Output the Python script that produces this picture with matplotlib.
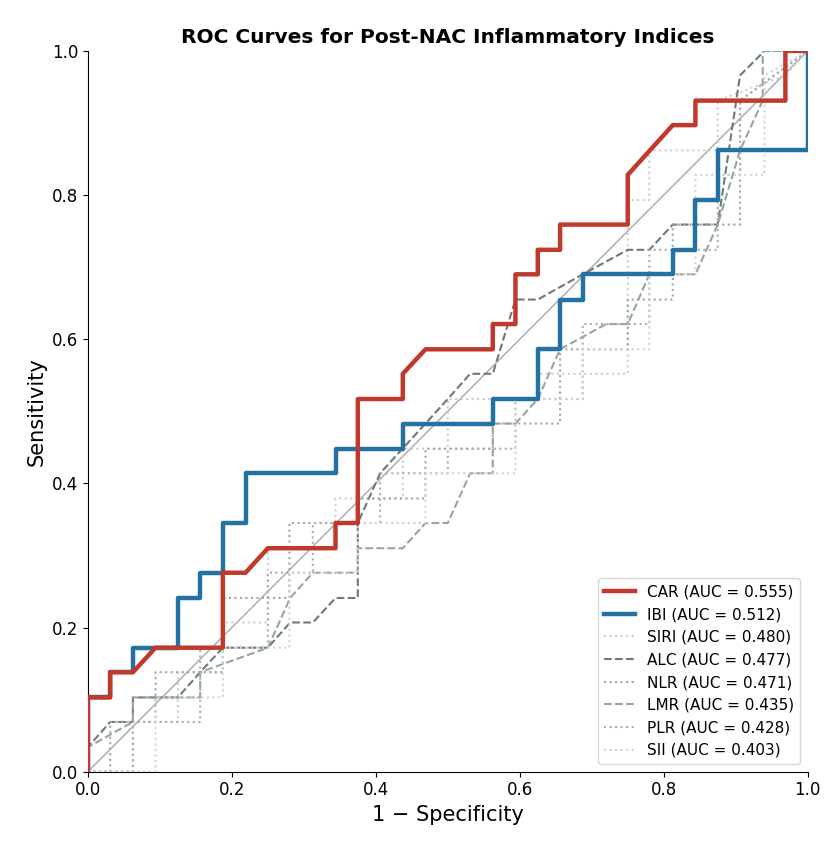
import matplotlib
matplotlib.use("Agg")
import matplotlib.pyplot as plt

car_fpr = [0,0,0.031,0.031,0.0625,0.094,0.1875,0.1875,0.219,0.25,0.344,0.344,0.375,0.375,0.4375,0.4375,0.469,0.5625,0.5625,0.594,0.594,0.625,0.625,0.656,0.656,0.75,0.75,0.8125,0.844,0.844,0.969,0.969,1]
car_tpr = [0,0.103,0.103,0.138,0.138,0.172,0.172,0.276,0.276,0.31,0.31,0.345,0.345,0.517,0.517,0.552,0.586,0.586,0.621,0.621,0.69,0.69,0.724,0.724,0.759,0.759,0.828,0.897,0.897,0.931,0.931,1,1]
ibi_fpr = [0,0,0.031,0.031,0.0625,0.0625,0.125,0.125,0.156,0.156,0.1875,0.1875,0.219,0.219,0.344,0.344,0.4375,0.4375,0.5625,0.5625,0.625,0.625,0.656,0.656,0.6875,0.6875,0.8125,0.8125,0.844,0.844,0.875,0.875,1,1]
ibi_tpr = [0,0.103,0.103,0.138,0.138,0.172,0.172,0.241,0.241,0.276,0.276,0.345,0.345,0.414,0.414,0.448,0.448,0.483,0.483,0.517,0.517,0.586,0.586,0.655,0.655,0.69,0.69,0.724,0.724,0.793,0.793,0.862,0.862,1]
alc_fpr = [0,0,0.031,0.0625,0.0625,0.125,0.156,0.1875,0.25,0.281,0.3125,0.344,0.375,0.375,0.406,0.469,0.5,0.531,0.5625,0.594,0.625,0.6875,0.75,0.78,0.8125,0.875,0.906,0.94,1]
alc_tpr = [0,0.034,0.069,0.069,0.103,0.103,0.138,0.172,0.172,0.207,0.207,0.241,0.241,0.345,0.414,0.483,0.517,0.552,0.552,0.655,0.655,0.69,0.724,0.724,0.759,0.759,0.966,1,1]
lmr_fpr = [0,0,0.0625,0.0625,0.156,0.156,0.25,0.281,0.3125,0.375,0.375,0.4375,0.469,0.5,0.531,0.5625,0.5625,0.594,0.625,0.656,0.72,0.75,0.78,0.844,0.875,0.906,0.9375,0.9375,1]
lmr_tpr = [0,0.034,0.069,0.103,0.103,0.138,0.172,0.241,0.276,0.276,0.31,0.31,0.345,0.345,0.414,0.414,0.483,0.483,0.517,0.586,0.621,0.621,0.69,0.69,0.759,0.862,0.931,1,1]
siri_fpr = [0,0.0625,0.0625,0.125,0.125,0.1875,0.1875,0.25,0.25,0.344,0.344,0.4375,0.4375,0.5,0.5,0.625,0.625,0.75,0.75,0.78,0.78,0.875,0.875,0.969,1]
siri_tpr = [0,0,0.069,0.069,0.138,0.138,0.207,0.207,0.31,0.31,0.379,0.379,0.448,0.448,0.517,0.517,0.552,0.552,0.793,0.793,0.862,0.862,0.931,0.966,1]
nlr_fpr = [0,0.031,0.031,0.094,0.094,0.1875,0.1875,0.28,0.28,0.375,0.375,0.469,0.469,0.5625,0.5625,0.656,0.656,0.75,0.75,0.8125,0.8125,0.906,0.906,1]
nlr_tpr = [0,0,0.069,0.069,0.138,0.138,0.241,0.241,0.345,0.345,0.379,0.379,0.448,0.448,0.483,0.483,0.586,0.586,0.655,0.655,0.759,0.759,0.931,1]
plr_fpr = [0,0.0625,0.0625,0.156,0.156,0.25,0.25,0.3125,0.3125,0.406,0.406,0.5,0.5,0.594,0.594,0.6875,0.6875,0.78,0.78,0.875,0.875,0.906,0.906,1]
plr_tpr = [0,0,0.069,0.069,0.172,0.172,0.276,0.276,0.345,0.345,0.414,0.414,0.448,0.448,0.517,0.517,0.621,0.621,0.724,0.724,0.828,0.828,0.931,1]
sii_fpr = [0,0.094,0.094,0.1875,0.1875,0.28,0.28,0.375,0.375,0.469,0.469,0.594,0.594,0.6875,0.6875,0.78,0.78,0.844,0.844,0.94,0.94,1]
sii_tpr = [0,0,0.103,0.103,0.172,0.172,0.276,0.276,0.345,0.345,0.414,0.414,0.517,0.517,0.586,0.586,0.69,0.69,0.828,0.828,0.966,1]

fig, ax = plt.subplots(figsize=(8.37, 8.48), dpi=100)
ax.plot([0,1],[0,1], color="#b0b4b8", lw=1.2)
ax.plot(car_fpr, car_tpr, color="#c0392b", lw=3.2, label="CAR (AUC = 0.555)", zorder=5)
ax.plot(ibi_fpr, ibi_tpr, color="#2471a3", lw=3.2, label="IBI (AUC = 0.512)", zorder=4)
ax.plot(siri_fpr, siri_tpr, color="#c8cdd0", lw=1.5, ls=":", label="SIRI (AUC = 0.480)")
ax.plot(alc_fpr, alc_tpr, color="#6c7a7a", lw=1.5, ls="--", label="ALC (AUC = 0.477)")
ax.plot(nlr_fpr, nlr_tpr, color="#9aa8a6", lw=1.5, ls=":", label="NLR (AUC = 0.471)")
ax.plot(lmr_fpr, lmr_tpr, color="#95a5a0", lw=1.5, ls="--", label="LMR (AUC = 0.435)")
ax.plot(plr_fpr, plr_tpr, color="#a9acb0", lw=1.5, ls=":", label="PLR (AUC = 0.428)")
ax.plot(sii_fpr, sii_tpr, color="#d0d3d6", lw=1.5, ls=":", label="SII (AUC = 0.403)")
ax.set_xlim(0,1); ax.set_ylim(0,1)
ax.set_xlabel("1 − Specificity", fontsize=15)
ax.set_ylabel("Sensitivity", fontsize=15)
ax.set_title("ROC Curves for Post-NAC Inflammatory Indices", fontsize=14.5, fontweight="bold")
ax.tick_params(labelsize=12)
ax.spines["top"].set_visible(False); ax.spines["right"].set_visible(False)
ax.legend(loc="lower right", fontsize=11)
fig.subplots_adjust(left=0.105, right=0.965, top=0.94, bottom=0.09)
fig.savefig("out.png")
